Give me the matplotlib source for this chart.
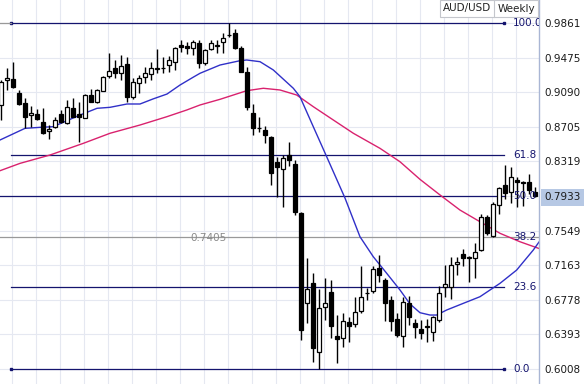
import matplotlib
matplotlib.use("Agg")
import matplotlib.pyplot as plt
from matplotlib.patches import Rectangle

# weekly AUD/USD candles
opens = [0.8948, 0.9223, 0.9234, 0.9078, 0.8973, 0.8833, 0.8848, 0.8762, 0.8653, 0.8706,
         0.8844, 0.8744, 0.8911, 0.8848, 0.8806, 0.9059, 0.8985, 0.9107, 0.9271, 0.9356,
         0.9301, 0.9404, 0.9040, 0.9189, 0.9256, 0.9298, 0.9354, 0.9360, 0.9388, 0.9430,
         0.9616, 0.9608, 0.9579, 0.9635, 0.9419, 0.9566, 0.9610, 0.9653, 0.9727, 0.9746,
         0.9579, 0.9318, 0.8864, 0.8692, 0.8669, 0.8595, 0.8316, 0.8232, 0.8391, 0.8291,
         0.7742, 0.6739, 0.6962, 0.6201, 0.6695, 0.6869, 0.6375, 0.6350, 0.6535, 0.6509,
         0.6654, 0.6851, 0.6880, 0.7129, 0.6999, 0.6776, 0.6561, 0.6381, 0.6743, 0.6523,
         0.6450, 0.6487, 0.6423, 0.6554, 0.6918, 0.6924, 0.7174, 0.7285, 0.7244, 0.7241,
         0.7333, 0.7704, 0.7486, 0.7834, 0.8057, 0.7979, 0.8113, 0.8090, 0.8085, 0.7979]
highs = [0.9226, 0.9360, 0.9427, 0.9115, 0.9026, 0.8937, 0.8903, 0.8914, 0.8725, 0.8814,
         0.8892, 0.9003, 0.9026, 0.8981, 0.9070, 0.9126, 0.9126, 0.9271, 0.9527, 0.9449,
         0.9505, 0.9482, 0.9248, 0.9282, 0.9371, 0.9427, 0.9571, 0.9482, 0.9493, 0.9597,
         0.9677, 0.9649, 0.9672, 0.9672, 0.9571, 0.9672, 0.9672, 0.9744, 0.9861, 0.9789,
         0.9605, 0.9371, 0.8964, 0.8814, 0.8714, 0.8603, 0.8369, 0.8391, 0.8539, 0.8335,
         0.7760, 0.7244, 0.7077, 0.6899, 0.7021, 0.6999, 0.6609, 0.6635, 0.6590, 0.6810,
         0.7155, 0.6910, 0.7160, 0.7277, 0.7018, 0.6821, 0.6631, 0.6810, 0.6821, 0.6570,
         0.6554, 0.6561, 0.6598, 0.6932, 0.7166, 0.7250, 0.7255, 0.7344, 0.7266, 0.7408,
         0.7734, 0.7723, 0.7873, 0.8035, 0.8280, 0.8257, 0.8146, 0.8101, 0.8185, 0.8035]
lows = [0.8781, 0.9115, 0.9137, 0.8948, 0.8692, 0.8703, 0.8781, 0.8625, 0.8569, 0.8697,
        0.8747, 0.8736, 0.8814, 0.8536, 0.8803, 0.8981, 0.8970, 0.9104, 0.9254, 0.9248,
        0.9226, 0.8981, 0.9020, 0.9081, 0.9193, 0.9226, 0.9304, 0.9304, 0.9315, 0.9338,
        0.9538, 0.9516, 0.9505, 0.9360, 0.9393, 0.9560, 0.9527, 0.9527, 0.9705, 0.9566,
        0.9315, 0.8892, 0.8614, 0.8647, 0.8525, 0.8057, 0.7923, 0.7815, 0.8268, 0.7723,
        0.6331, 0.6520, 0.6086, 0.6008, 0.6554, 0.6353, 0.6078, 0.6250, 0.6312, 0.6476,
        0.6628, 0.6776, 0.6851, 0.6980, 0.6542, 0.6431, 0.6359, 0.6258, 0.6498, 0.6350,
        0.6339, 0.6312, 0.6323, 0.6535, 0.6810, 0.6784, 0.7055, 0.7155, 0.6977, 0.7018,
        0.7327, 0.7500, 0.7474, 0.7734, 0.7901, 0.7862, 0.7809, 0.7823, 0.7957, 0.7925]
closes = [0.9204, 0.9252, 0.9145, 0.8956, 0.8811, 0.8855, 0.8789, 0.8633, 0.8686, 0.8781,
          0.8762, 0.8922, 0.8817, 0.8814, 0.9059, 0.8985, 0.9115, 0.9256, 0.9330, 0.9301,
          0.9382, 0.9040, 0.9200, 0.9245, 0.9301, 0.9365, 0.9360, 0.9356, 0.9454, 0.9579,
          0.9599, 0.9588, 0.9646, 0.9421, 0.9560, 0.9642, 0.9616, 0.9690, 0.9724, 0.9586,
          0.9318, 0.8922, 0.8688, 0.8687, 0.8614, 0.8187, 0.8261, 0.8354, 0.8335, 0.7760,
          0.6442, 0.6895, 0.6238, 0.6684, 0.6746, 0.6487, 0.6339, 0.6546, 0.6487, 0.6646,
          0.6813, 0.6854, 0.7118, 0.7058, 0.6746, 0.6548, 0.6386, 0.6757, 0.6587, 0.6472,
          0.6405, 0.6476, 0.6584, 0.6858, 0.6951, 0.7166, 0.7203, 0.7241, 0.7255, 0.7307,
          0.7704, 0.7519, 0.7845, 0.8020, 0.7971, 0.8143, 0.8085, 0.8076, 0.7996, 0.7933]

# moving averages, sampled along the curves (bar index, price)
ma_fast_x = [-0.22, 3.95, 6.45, 8.62, 13.12, 15.95, 18.12, 20.95, 23.12, 25.28, 27.62, 29.78,
             31.95, 33.12, 36.45, 39.78, 40.9, 43.12, 45.33, 48.67, 49.78, 52.0, 54.23, 57.28,
             59.78, 62.0, 64.23, 66.45, 68.12, 69.78, 71.45, 72.57, 74.23, 77.0, 79.78, 83.12,
             85.9, 87.0, 88.67, 89.62]
ma_fast = [0.8558, 0.8688, 0.8699, 0.8706, 0.8836, 0.8911, 0.8922, 0.8959, 0.8959, 0.9015,
           0.9070, 0.9170, 0.9256, 0.9301, 0.9393, 0.9441, 0.9449, 0.9430, 0.9338, 0.9134,
           0.9040, 0.8706, 0.8372, 0.7912, 0.7481, 0.7258, 0.7074, 0.6888, 0.6732, 0.6635,
           0.6609, 0.6609, 0.6665, 0.6739, 0.6813, 0.6962, 0.7110, 0.7199, 0.7333, 0.7422]
ma_slow_x = [-0.22, 3.12, 8.12, 13.67, 18.12, 23.12, 27.57, 30.9, 33.12, 36.45, 40.9, 43.67,
             46.45, 49.23, 52.0, 55.33, 58.67, 63.12, 66.45, 69.78, 73.12, 76.45, 79.78, 83.12,
             86.45, 89.62]
ma_slow = [0.8216, 0.8298, 0.8391, 0.8521, 0.8633, 0.8725, 0.8817, 0.8892, 0.8948, 0.9011,
           0.9107, 0.9134, 0.9115, 0.9059, 0.8929, 0.8781, 0.8633, 0.8465, 0.8316, 0.8120,
           0.7946, 0.7778, 0.7648, 0.7519, 0.7425, 0.7350]

# fibonacci retracement between swing high and low
fib_high = 0.9861
fib_low = 0.6008
fib_levels = [0.0, 23.6, 38.2, 50.0, 61.8, 100.0]
fib_labels = ["0.0", "23.6", "38.2", "50.0", "61.8", "100.0"]
fib_start, fib_end = 1.62, 83.8

price_ticks = [0.9861, 0.9475, 0.9090, 0.8705, 0.8319, 0.7933, 0.7549, 0.7163, 0.6778, 0.6393, 0.6008]
last_price = 0.7933
hline_price = 0.7405

plt.rcParams['font.family'] = ['DejaVu Sans']

fig = plt.figure(figsize=(5.84, 3.84), dpi=100)
ax = fig.add_axes([0, 0, 539 / 584, 1])
ax.set_xlim(-0.22, 89.62)
ax.set_ylim(0.5841, 1.0117)

navy = '#14146e'

# grid
for p in price_ticks:
    ax.axhline(p, color='#e5e8f1', lw=0.8, zorder=0)
gx = 1.73
while gx < 90:
    ax.axvline(gx, color='#e5e8f1', lw=0.8, zorder=0)
    gx += 4

# fib levels
for lvl, lab in zip(fib_levels, fib_labels):
    price = fib_low + (fib_high - fib_low) * lvl / 100
    if lab == "38.2":
        ax.axhline(price, color='#999999', lw=0.9, zorder=1)
    elif lab == "50.0":
        ax.plot([-0.22, fib_end], [price, price], color=navy, lw=0.9, zorder=1)
    else:
        ax.plot([fib_start, fib_end], [price, price], color=navy, lw=0.9, zorder=1)
        if lab in ("0.0", "100.0"):
            ax.plot([fib_start, fib_end], [price, price], ls='none', marker='s', ms=2,
                    color=navy, zorder=1)
    ax.text(85.3, price, lab, color=navy, fontsize=7.5, ha='left', va='center',
            zorder=6, clip_on=True)
ax.plot([-0.22, fib_start], [fib_high, fib_high], color='#999999', lw=0.9, zorder=1)

# label of the grey horizontal line, drawn through by the line
ax.text(31.45, hline_price + 0.0077, "0.7405", color='#8a8a8a', fontsize=7.5,
        ha='left', va='center_baseline', zorder=2)

# moving averages
ax.plot(ma_slow_x, ma_slow, color='#d9226e', lw=1.0, zorder=2)
ax.plot(ma_fast_x, ma_fast, color='#3030c8', lw=1.0, zorder=2)

# candles
idx = list(range(len(opens)))
ax.vlines(idx, lows, highs, color='black', lw=1.0, zorder=3)
for i in idx:
    o, c = opens[i], closes[i]
    bottom = min(o, c)
    height = abs(c - o)
    face = 'white' if c >= o else 'black'
    ax.bar(i, height, bottom=bottom, width=0.62, color=face, edgecolor='black',
           linewidth=0.9, zorder=4)

# right price axis
for s in ('top', 'left', 'bottom'):
    ax.spines[s].set_visible(False)
ax.spines['right'].set_color('#a9b6d4')
ax.spines['right'].set_linewidth(1.0)
ax.yaxis.tick_right()
ax.set_yticks(price_ticks)
ax.set_yticklabels(["%.4f" % p for p in price_ticks])
ax.tick_params(axis='y', length=0, pad=4, labelsize=7.5, labelcolor='#1a1a1a')
ax.set_xticks([])
for lbl in ax.get_yticklabels():
    if lbl.get_text() == "%.4f" % last_price:
        lbl.set_bbox(dict(facecolor='#b6c8e4', edgecolor='none', pad=2.5))

# symbol / period box at the top right
fig.patches.append(Rectangle((440 / 584, 1 - 17 / 384), 98 / 584, 17 / 384,
                             transform=fig.transFigure, facecolor='white',
                             edgecolor='#c4c6cc', lw=0.8, zorder=10))
fig.lines.append(plt.Line2D([494 / 584, 494 / 584], [1 - 17 / 384, 1],
                            transform=fig.transFigure, color='#c4c6cc', lw=0.8, zorder=11))
fig.text(467 / 584, 1 - 8.5 / 384, "AUD/USD", fontsize=7.5, ha='center', va='center',
         color='#222222', zorder=12)
fig.text(516 / 584, 1 - 8.5 / 384, "Weekly", fontsize=7.5, ha='center', va='center',
         color='#222222', zorder=12)

fig.savefig("out.png", dpi=100)
